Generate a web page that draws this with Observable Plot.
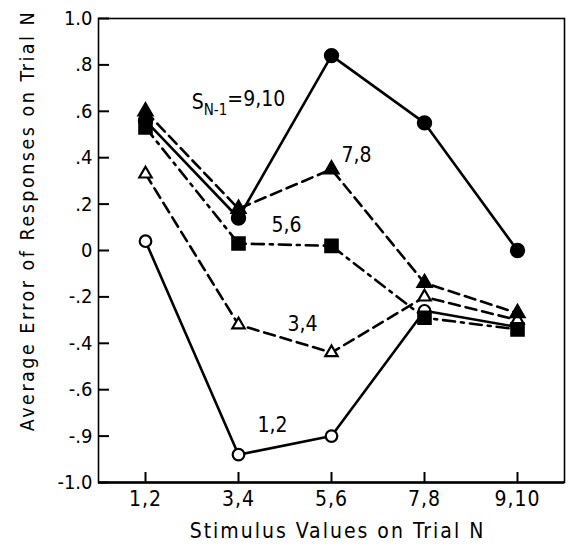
<!DOCTYPE html>
<html>
<head>
<meta charset="utf-8">
<script src="https://cdn.jsdelivr.net/npm/d3@7"></script>
<script src="https://cdn.jsdelivr.net/npm/@observablehq/plot@0.6"></script>
<style>
  html, body { margin: 0; padding: 0; background: #fff; }
  #chart svg { display: block; }
</style>
</head>
<body>
<div id="chart"></div>
<script>
// ---- data ----
const categories = ["1,2", "3,4", "5,6", "7,8", "9,10"];
const seriesNames = ["9,10", "7,8", "5,6", "3,4", "1,2"];
const s9_10 = [0.56, 0.14, 0.84, 0.55, 0.00];
const s7_8  = [0.60, 0.18, 0.35, -0.14, -0.27];
const s5_6  = [0.53, 0.03, 0.02, -0.29, -0.34];
const s3_4  = [0.33, -0.32, -0.44, -0.20, -0.30];
const s1_2  = [0.04, -0.88, -0.80, -0.26, -0.33];
const yTickValues = [1, 0.8, 0.6, 0.4, 0.2, 0, -0.2, -0.4, -0.6, -0.8, -1];
const yTickLabels = ["1.0", ".8", ".6", ".4", ".2", "0", "-.2", "-.4", "-.6", "-.9", "-1.0"];
const xTitle = "Stimulus Values on Trial N";
const yTitle = "Average Error of Responses on Trial N";
// series labels placed in data coordinates
const labelText = ["S_N-1=9,10", "7,8", "5,6", "3,4", "1,2"];
const labelX    = ["3,4", "5,6", "3,4", "3,4", "3,4"];
const labelY    = [0.64, 0.41, 0.11, -0.32, -0.755];

// ---- build tables ----
const seriesValues = [s9_10, s7_8, s5_6, s3_4, s1_2];
const data = seriesNames.flatMap((s, k) =>
  categories.map((c, i) => ({series: s, x: c, y: seriesValues[k][i]})));
const labels = labelText.map((t, i) => ({text: t, x: labelX[i], y: labelY[i]}));

const style = {
  "9,10": {dash: null, symbol: "circle", fill: "black", r: 6.6},
  "7,8":  {dash: "11,6", symbol: "triangle", fill: "black", r: 5.2},
  "5,6":  {dash: "12,6,3,6", symbol: "square", fill: "black", r: 7},
  "3,4":  {dash: "11,6", symbol: "triangle", fill: "white", r: 4.6},
  "1,2":  {dash: null, symbol: "circle", fill: "white", r: 5.8}
};
const tickLabel = new Map(yTickValues.map((v, i) => [v, yTickLabels[i]]));
const font = "'DejaVu Sans Condensed', 'Liberation Sans Narrow', 'DejaVu Sans', sans-serif";
const labelDx = [0, 25, 48, 64, 34];

const marks = [];
for (const s of seriesNames) {
  marks.push(Plot.line(data.filter(d => d.series === s), {
    x: "x", y: "y", stroke: "black", strokeWidth: 2.6,
    strokeDasharray: style[s].dash
  }));
}
for (const s of seriesNames.slice().reverse()) {
  marks.push(Plot.dot(data.filter(d => d.series === s), {
    x: "x", y: "y", symbol: style[s].symbol, r: style[s].r,
    fill: style[s].fill, stroke: "black", strokeWidth: 2.2
  }));
}

const chart = Plot.plot({
  width: 569,
  height: 549,
  marginLeft: 98,
  marginRight: 5,
  marginTop: 18,
  marginBottom: 67,
  style: {fontFamily: font, background: "white", color: "black"},
  x: {type: "point", domain: categories, padding: 0.5},
  y: {domain: [-1, 1]},
  marks: [
    Plot.frame({stroke: "black", strokeWidth: 1.6}),
    Plot.ruleY([-1], {strokeWidth: 2.4}),
    // inward ticks (axis ticks shifted into the frame)
    Plot.axisY({ticks: yTickValues, tickSize: 11, dx: 11, tickFormat: () => "",
      strokeWidth: 2, label: null}),
    Plot.axisX({tickSize: 10, dy: -10, tickFormat: () => "", strokeWidth: 2, label: null}),
    // tick labels
    Plot.axisY({ticks: yTickValues, tickFormat: d => tickLabel.get(d), tickSize: 0,
      tickPadding: 6, fontSize: 20, label: null}),
    Plot.axisX({tickSize: 0, tickPadding: 9, fontSize: 21, label: null}),
    ...marks,
    Plot.text(labels, {x: "x", y: "y", text: "text",
      fontSize: 21, textAnchor: "middle"}),
    Plot.text([yTitle], {frameAnchor: "left", text: d => d, rotate: -90,
      dx: -71, dy: -30, fontSize: 19.5, textAnchor: "middle"}),
    Plot.text([xTitle], {frameAnchor: "bottom", text: d => d, dx: 6, dy: 55,
      fontSize: 21, textAnchor: "middle"})
  ]
});
document.getElementById("chart").appendChild(chart);

const svg = d3.select(chart);
// offset series labels and add subscript
const textGroups = svg.selectAll("g[aria-label='text']").nodes();
d3.select(textGroups[0]).selectAll("text").each(function(d, i) {
  const el = d3.select(this);
  const tr = el.attr("transform");
  el.attr("transform", (tr ? tr + " " : "") + `translate(${labelDx[i]},0)`);
  if (el.text() === labelText[0]) {
    el.text(null);
    el.append("tspan").text("S");
    el.append("tspan").attr("dy", "0.4em").attr("font-size", 15).text("N-1");
    el.append("tspan").attr("dy", "-0.4em").text("=9,10");
  }
});
// spacing for titles
d3.select(textGroups[1]).selectAll("text").attr("letter-spacing", 2.5);
d3.select(textGroups[2]).selectAll("text").attr("letter-spacing", 2);
svg.selectAll("g[aria-label='x-axis tick label'] text").attr("letter-spacing", 1);
</script>
</body>
</html>
